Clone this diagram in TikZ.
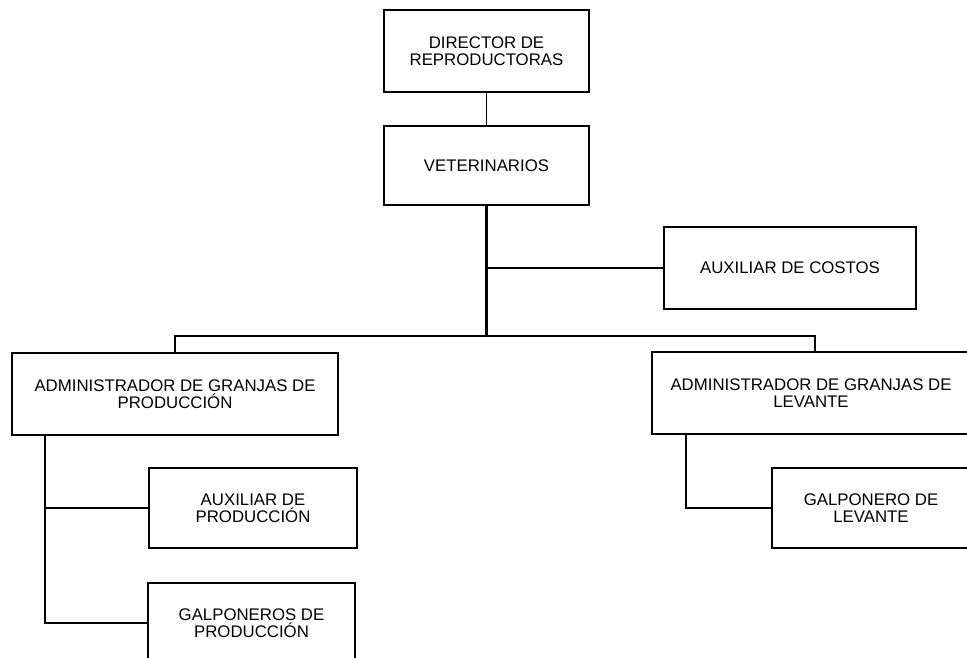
\documentclass[tikz,border=0pt]{standalone}
\usepackage{fontspec}
\newfontfamily\orgfont{Liberation Sans}
\usetikzlibrary{calc}
\begin{document}
\begin{tikzpicture}[x=1pt,y=-1pt,
  box/.style={draw, line width=1.25pt, inner sep=0pt, align=center,
    font=\orgfont\fontsize{16.8pt}{17pt}\selectfont},
  link/.style={line width=1.25pt},
  trunk/.style={line width=2.2pt}]
\useasboundingbox (0,0) rectangle (967,658);

% boxes
\node[box, minimum width=205pt, minimum height=82pt] (dir) at (486.5,51) {DIRECTOR DE\\REPRODUCTORAS};
\node[box, minimum width=205pt, minimum height=79pt] (vet) at (486.5,165.5) {VETERINARIOS};
\node[box, minimum width=252pt, minimum height=82pt] (cost) at (790,268) {AUXILIAR DE COSTOS};
\node[box, minimum width=326pt, minimum height=82pt] (aprod) at (175,394) {ADMINISTRADOR DE GRANJAS DE\\PRODUCCIÓN};
\node[box, minimum width=318pt, minimum height=82pt] (alev) at (811,393) {ADMINISTRADOR DE GRANJAS DE\\LEVANTE};
\node[box, minimum width=208pt, minimum height=80pt] (auxp) at (253,508) {AUXILIAR DE\\PRODUCCIÓN};
\node[box, minimum width=207pt, minimum height=80pt] (galp) at (251.5,623) {GALPONEROS DE\\PRODUCCIÓN};
\node[box, minimum width=198pt, minimum height=80pt] (galv) at (871,508) {GALPONERO DE\\LEVANTE};

% bus and spine points
\coordinate (bus) at (486.5,336);
\coordinate (busL) at (175,336);
\coordinate (busR) at (815,336);
\coordinate (spL) at (45,435);
\coordinate (spR) at (686,434);

% connectors
\draw[link] (dir.south) -- (vet.north);
\draw[trunk] (vet.south) -- (bus);
\draw[link] (vet.south |- cost.west) -- (cost.west);
\draw[link] (aprod.north) -- (busL) -- (busR) -- (busR |- alev.north);
\draw[link] (spL) |- (galp.west);
\draw[link] (spL |- auxp.west) -- (auxp.west);
\draw[link] (spR) |- (galv.west);
\end{tikzpicture}
\end{document}
